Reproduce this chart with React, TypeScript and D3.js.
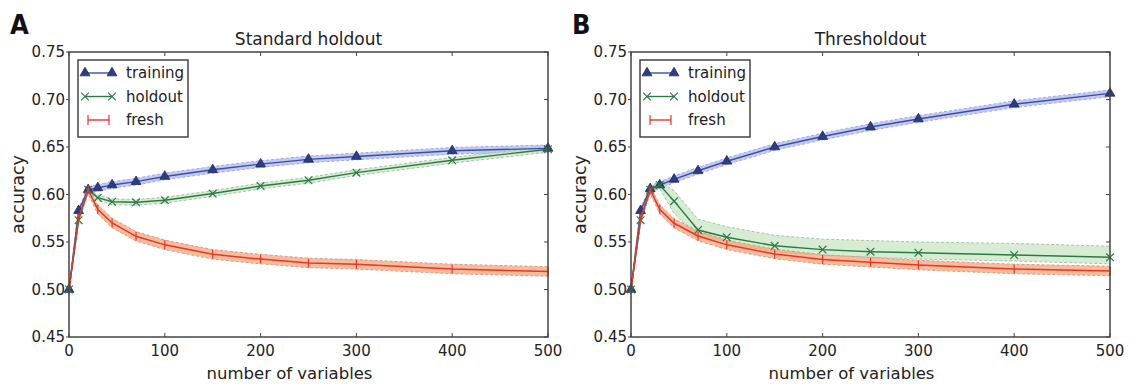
import {useEffect, useRef} from "react";
import * as d3 from "d3";

// x values shared by every series
const variables = [0, 10, 20, 30, 45, 70, 100, 150, 200, 250, 300, 400, 500];

// Panel A: standard holdout
const stdTraining = [0.5, 0.583, 0.605, 0.607, 0.61, 0.6135, 0.619, 0.626, 0.632, 0.637, 0.64, 0.646, 0.6486];
const stdHoldout = [0.5, 0.573, 0.605, 0.5966, 0.5924, 0.5918, 0.594, 0.601, 0.609, 0.615, 0.623, 0.636, 0.6476];
const stdFresh = [0.5, 0.575, 0.605, 0.5844, 0.57, 0.556, 0.547, 0.537, 0.532, 0.528, 0.5265, 0.5216, 0.519];

// Panel B: thresholdout
const thrTraining = [0.5, 0.583, 0.606, 0.61, 0.616, 0.625, 0.635, 0.65, 0.661, 0.671, 0.6795, 0.695, 0.7065];
const thrHoldout = [0.5, 0.573, 0.605, 0.61, 0.593, 0.5626, 0.555, 0.546, 0.542, 0.5398, 0.5387, 0.5363, 0.5339];
const thrHoldoutUpper = [0.5, 0.578, 0.607, 0.614, 0.604, 0.574, 0.566, 0.557, 0.553, 0.5515, 0.55, 0.5485, 0.5455];
const thrHoldoutLower = [0.5, 0.568, 0.603, 0.606, 0.58, 0.555, 0.548, 0.54, 0.536, 0.534, 0.532, 0.53, 0.527];
const thrFresh = [0.5, 0.575, 0.605, 0.5844, 0.5697, 0.5563, 0.547, 0.5374, 0.5316, 0.5287, 0.5258, 0.5216, 0.5195];

// half widths of the shaded bands
const trainingSpread = [0, 0.002, 0.003, 0.0035, 0.0035, 0.0035, 0.0035, 0.0035, 0.0035, 0.0035, 0.0035, 0.0035, 0.0035];
const holdoutSpread = [0, 0.002, 0.002, 0.003, 0.003, 0.003, 0.003, 0.003, 0.003, 0.003, 0.003, 0.003, 0.003];
const freshSpread = [0, 0.003, 0.004, 0.005, 0.005, 0.005, 0.005, 0.005, 0.005, 0.005, 0.005, 0.005, 0.005];

const xTicks = [0, 100, 200, 300, 400, 500];
const yTicks = [0.45, 0.5, 0.55, 0.6, 0.65, 0.7, 0.75];

const panels = [
	{
		letter: "A",
		title: "Standard holdout",
		left: 69,
		training: stdTraining,
		holdout: stdHoldout,
		holdoutUpper: stdHoldout.map((v, i) => v + holdoutSpread[i]),
		holdoutLower: stdHoldout.map((v, i) => v - holdoutSpread[i]),
		fresh: stdFresh,
	},
	{
		letter: "B",
		title: "Thresholdout",
		left: 631,
		training: thrTraining,
		holdout: thrHoldout,
		holdoutUpper: thrHoldoutUpper,
		holdoutLower: thrHoldoutLower,
		fresh: thrFresh,
	},
];

const FONT = "'DejaVu Sans', sans-serif";
const TEXT = "#222";
const AXIS = "#444";

const blue = {line: "#3a4ea6", marker: "#2c3d86", band: "#aab4ec", edge: "#a3abe0"};
const green = {line: "#2b7a45", band: "#c4e6c0", edge: "#a9c2a8"};
const red = {line: "#e8362a", band: "#f7a071", edge: "#c9a18f"};

const App = () => {
	const svgRef = useRef(null);

	useEffect(() => {
		const width = 1136;
		const height = 388;
		const plotWidth = 479;
		const top = 52;
		const bottom = 337;

		const svg = d3
			.select(svgRef.current)
			.attr("width", width)
			.attr("height", height)
			.attr("viewBox", [0, 0, width, height]);

		svg.selectAll("*").remove();
		svg.append("rect").attr("width", width).attr("height", height).attr("fill", "#fff");

		panels.forEach((p) => {
			const x = d3.scaleLinear().domain([0, 500]).range([p.left, p.left + plotWidth]);
			const y = d3.scaleLinear().domain([0.45, 0.75]).range([bottom, top]);
			const g = svg.append("g");

			const band = (lo, hi, c) => {
				const pts = variables.map((v, i) => ({x: v, lo: lo[i], hi: hi[i]}));
				g.append("path")
					.attr("fill", c.band)
					.attr("fill-opacity", 0.7)
					.attr("d", d3.area().x((d) => x(d.x)).y0((d) => y(d.lo)).y1((d) => y(d.hi))(pts));
				[lo, hi].forEach((edge) => {
					g.append("path")
						.attr("fill", "none")
						.attr("stroke", c.edge)
						.attr("stroke-width", 1)
						.attr("stroke-dasharray", "3,2")
						.attr("d", d3.line().x((d, i) => x(variables[i])).y((d) => y(d))(edge));
				});
			};

			band(
				p.training.map((v, i) => v - trainingSpread[i]),
				p.training.map((v, i) => v + trainingSpread[i]),
				blue
			);
			band(p.holdoutLower, p.holdoutUpper, green);
			band(
				p.fresh.map((v, i) => v - freshSpread[i]),
				p.fresh.map((v, i) => v + freshSpread[i]),
				red
			);

			const line = d3
				.line()
				.x((d, i) => x(variables[i]))
				.y((d) => y(d));

			// training
			g.append("path")
				.attr("fill", "none")
				.attr("stroke", blue.line)
				.attr("stroke-width", 1.4)
				.attr("d", line(p.training));
			g.selectAll(".tri")
				.data(p.training)
				.join("path")
				.attr("transform", (d, i) => `translate(${x(variables[i])},${y(d)})`)
				.attr("d", d3.symbol(d3.symbolTriangle, 42)())
				.attr("fill", blue.marker)
				.attr("stroke", "#1e2b63")
				.attr("stroke-width", 0.8);

			// holdout
			g.append("path")
				.attr("fill", "none")
				.attr("stroke", green.line)
				.attr("stroke-width", 1.4)
				.attr("d", line(p.holdout));
			g.selectAll(".xm")
				.data(p.holdout)
				.join("path")
				.attr("transform", (d, i) => `translate(${x(variables[i])},${y(d)})`)
				.attr("d", d3.symbol(d3.symbolX, 40)())
				.attr("fill", "none")
				.attr("stroke", green.line)
				.attr("stroke-width", 1.2);

			// fresh
			g.append("path")
				.attr("fill", "none")
				.attr("stroke", red.line)
				.attr("stroke-width", 1.5)
				.attr("d", line(p.fresh));
			g.selectAll(".cap")
				.data(p.fresh)
				.join("line")
				.attr("x1", (d, i) => x(variables[i]))
				.attr("x2", (d, i) => x(variables[i]))
				.attr("y1", (d) => y(d) - 4.5)
				.attr("y2", (d) => y(d) + 4.5)
				.attr("stroke", red.line)
				.attr("stroke-width", 1.2);

			// frame
			g.append("rect")
				.attr("x", p.left)
				.attr("y", top)
				.attr("width", plotWidth)
				.attr("height", bottom - top)
				.attr("fill", "none")
				.attr("stroke", AXIS)
				.attr("stroke-width", 1.5);

			// x ticks (inward, top and bottom)
			xTicks.forEach((t) => {
				g.append("line")
					.attr("x1", x(t)).attr("x2", x(t))
					.attr("y1", bottom).attr("y2", bottom - 4)
					.attr("stroke", AXIS);
				g.append("line")
					.attr("x1", x(t)).attr("x2", x(t))
					.attr("y1", top).attr("y2", top + 4)
					.attr("stroke", AXIS);
				g.append("text")
					.attr("x", x(t))
					.attr("y", bottom + 19)
					.attr("text-anchor", "middle")
					.attr("font-family", FONT)
					.attr("font-size", 15)
					.attr("fill", TEXT)
					.text(t);
			});

			// y ticks
			yTicks.forEach((t) => {
				g.append("line")
					.attr("x1", p.left - 3).attr("x2", p.left)
					.attr("y1", y(t)).attr("y2", y(t))
					.attr("stroke", AXIS);
				g.append("line")
					.attr("x1", p.left + plotWidth).attr("x2", p.left + plotWidth - 4)
					.attr("y1", y(t)).attr("y2", y(t))
					.attr("stroke", AXIS);
				g.append("text")
					.attr("x", p.left - 4)
					.attr("y", y(t))
					.attr("dy", "0.36em")
					.attr("text-anchor", "end")
					.attr("font-family", FONT)
					.attr("font-size", 15)
					.attr("fill", TEXT)
					.text(t.toFixed(2));
			});

			// labels
			const mid = p.left + plotWidth / 2;
			g.append("text")
				.attr("x", mid)
				.attr("y", 45)
				.attr("text-anchor", "middle")
				.attr("font-family", FONT)
				.attr("font-size", 17)
				.attr("fill", TEXT)
				.text(p.title);
			g.append("text")
				.attr("x", mid - 19)
				.attr("y", 379)
				.attr("text-anchor", "middle")
				.attr("font-family", FONT)
				.attr("font-size", 16.5)
				.attr("fill", TEXT)
				.text("number of variables");
			g.append("text")
				.attr("transform", `translate(${p.left - 45},${(top + bottom) / 2}) rotate(-90)`)
				.attr("text-anchor", "middle")
				.attr("font-family", FONT)
				.attr("font-size", 17.5)
				.attr("fill", TEXT)
				.text("accuracy");
			g.append("text")
				.attr("x", p.left - 59)
				.attr("y", 34)
				.attr("font-family", "'DejaVu Sans Condensed', 'DejaVu Sans', sans-serif")
				.attr("font-stretch", "condensed")
				.attr("font-weight", "bold")
				.attr("font-size", 27)
				.attr("fill", "#111")
				.text(p.letter);

			// legend
			const lx = p.left + 9;
			const ly = 60;
			g.append("rect")
				.attr("x", lx)
				.attr("y", ly)
				.attr("width", 110)
				.attr("height", 77)
				.attr("fill", "#fff")
				.attr("stroke", AXIS)
				.attr("stroke-width", 1.5);
			const entries = [
				{name: "training", color: blue.line, kind: "tri"},
				{name: "holdout", color: green.line, kind: "x"},
				{name: "fresh", color: red.line, kind: "cap"},
			];
			entries.forEach((e, i) => {
				const cy = ly + 13 + i * 23.5;
				const x1 = lx + 7;
				const x2 = lx + 34;
				if (e.kind === "cap") {
					g.append("line").attr("x1", x1 + 3).attr("x2", x2 - 3).attr("y1", cy).attr("y2", cy)
						.attr("stroke", e.color).attr("stroke-width", 1.4);
					[x1 + 3, x2 - 3].forEach((cx) => {
						g.append("line").attr("x1", cx).attr("x2", cx).attr("y1", cy - 5).attr("y2", cy + 5)
							.attr("stroke", e.color).attr("stroke-width", 1.2);
					});
				} else {
					g.append("line").attr("x1", x1).attr("x2", x2).attr("y1", cy).attr("y2", cy)
						.attr("stroke", e.color).attr("stroke-width", 1.4);
					[x1, x2].forEach((cx) => {
						const m = g.append("path")
							.attr("transform", `translate(${cx},${cy})`)
							.attr("d", d3.symbol(e.kind === "tri" ? d3.symbolTriangle : d3.symbolX, e.kind === "tri" ? 42 : 40)());
						if (e.kind === "tri") m.attr("fill", blue.marker).attr("stroke", "#1e2b63").attr("stroke-width", 0.8);
						else m.attr("fill", "none").attr("stroke", e.color).attr("stroke-width", 1.2);
					});
				}
				g.append("text")
					.attr("x", lx + 48)
					.attr("y", cy)
					.attr("dy", "0.36em")
					.attr("font-family", FONT)
					.attr("font-size", 15)
					.attr("fill", TEXT)
					.text(e.name);
			});
		});
	}, []);

	return (
		<div style={{position: "absolute", left: 0, top: 0}}>
			<svg ref={svgRef} style={{display: "block"}}></svg>
		</div>
	);
};

export default App;
